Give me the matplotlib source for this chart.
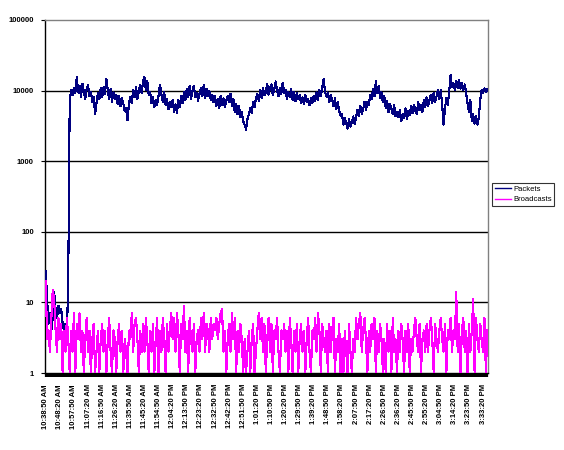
import numpy as np
import matplotlib.pyplot as plt
from matplotlib.ticker import NullLocator

# x-axis category labels (one every 10 samples)
time_labels = ["10:38:50 AM", "10:48:20 AM", "10:57:50 AM", "11:07:20 AM", "11:16:50 AM",
               "11:26:20 AM", "11:35:50 AM", "11:45:20 AM", "11:54:50 AM", "12:04:20 PM",
               "12:13:50 PM", "12:23:20 PM", "12:32:50 PM", "12:42:20 PM", "12:51:50 PM",
               "1:01:20 PM", "1:10:50 PM", "1:20:20 PM", "1:29:50 PM", "1:39:20 PM",
               "1:48:50 PM", "1:58:20 PM", "2:07:50 PM", "2:17:20 PM", "2:26:50 PM",
               "2:36:20 PM", "2:45:50 PM", "2:55:20 PM", "3:04:50 PM", "3:14:20 PM",
               "3:23:50 PM", "3:33:20 PM"]
label_step = 10

packets = [
    28, 11, 5, 7, 4, 6, 14, 8, 6, 9,
    7, 8, 5, 4, 5, 3, 25, 6800, 10200, 8600,
    11000, 9200, 15500, 9400, 11800, 8100, 12600, 9700, 7600, 10400,
    12000, 8300, 9600, 7000, 8200, 4600, 6700, 9300, 7500, 10800,
    8000, 11200, 9000, 14800, 9900, 7600, 10500, 7000, 9400, 7700,
    8800, 6500, 8300, 6000, 7800, 6600, 5100, 5600, 3800, 6700,
    8100, 6600, 10200, 8000, 11300, 7600, 9600, 12200, 9300, 13600,
    15500, 10100, 13800, 8600, 9500, 6700, 8200, 5900, 7400, 6300,
    8600, 12200, 8800, 7000, 9500, 6200, 7600, 5400, 6800, 5800,
    7300, 5000, 6400, 4800, 7300, 5900, 8400, 6600, 9600, 7400,
    10500, 8000, 11600, 7500, 9800, 11800, 8000, 9200, 7200, 9000,
    10800, 8300, 11900, 7800, 10600, 8500, 9800, 7300, 8800, 6800,
    8300, 6100, 7600, 5600, 8400, 6300, 7800, 5800, 7200, 8500,
    6800, 9000, 6100, 7600, 5000, 6500, 4600, 6100, 4200, 4900,
    3700, 3300, 2800, 3900, 4700, 5600, 4800, 6800, 5800, 7800,
    9000, 7200, 10200, 7900, 11000, 8600, 9400, 12500, 8800, 10800,
    12200, 8600, 10400, 13500, 9800, 8400, 11000, 9000, 13000, 9300,
    10200, 7700, 9600, 8200, 10400, 7400, 9500, 7100, 9200, 7600,
    8600, 6600, 8000, 6400, 8600, 6800, 7600, 6200, 7800, 6600,
    8400, 7200, 9400, 7400, 10200, 8400, 11000, 14500, 9600, 8200,
    9400, 6800, 8600, 7400, 6000, 7800, 5400, 6900, 5200, 4400,
    4600, 3300, 4100, 3500, 2900, 3900, 3100, 3600, 4300, 3400,
    4200, 5300, 4400, 6000, 4700, 5400, 6900, 5300, 7000, 6200,
    8700, 7600, 10500, 8300, 13500, 9300, 11800, 7800, 9500, 6800,
    8300, 5700, 7200, 4900, 6500, 5600, 4600, 6200, 4300, 5000,
    4200, 5300, 3700, 4700, 4100, 5600, 3900, 5100, 4500, 6000,
    4800, 6300, 5200, 4700, 6800, 5300, 6300, 5000, 7300, 5900,
    8000, 6000, 7300, 8800, 6700, 9300, 7000, 8200, 10200, 7600,
    10200, 6400, 3300, 5600, 7800, 6200, 9800, 16500, 11200, 12600,
    10300, 13600, 11000, 14000, 10600, 12800, 10200, 12200, 9200, 6600,
    4900, 7300, 3700, 4600, 3400, 4400, 3300, 4200, 7400, 10200,
    9200, 10800, 9600, 10400,
]

broadcasts = [
    20, 3, 4, 2, 6, 15, 11, 4, 2, 6,
    3, 5, 1, 4, 2, 6, 3, 1, 4, 2,
    7, 1, 5, 3, 7, 2, 4, 1, 3, 6,
    2, 4, 1, 3, 5, 1, 2, 4, 1, 3,
    5, 2, 4, 1, 3, 6, 2, 1, 4, 3,
    1, 3, 5, 2, 4, 1, 3, 2, 1, 4,
    3, 7, 2, 5, 6, 3, 1, 4, 2, 5,
    2, 6, 3, 1, 4, 2, 5, 1, 3, 6,
    1, 4, 2, 6, 3, 1, 5, 2, 4, 7,
    3, 6, 2, 7, 4, 1, 5, 3, 9, 2,
    4, 1, 6, 3, 2, 5, 1, 3, 4, 2,
    6, 3, 7, 2, 5, 4, 2, 6, 3, 5,
    4, 6, 3, 5, 7, 8, 2, 4, 1, 3,
    5, 2, 7, 3, 6, 1, 4, 2, 5, 3,
    1, 3, 1, 2, 4, 1, 3, 5, 1, 2,
    4, 7, 3, 6, 2, 5, 1, 3, 6, 2,
    5, 1, 4, 3, 6, 2, 1, 4, 3, 5,
    2, 4, 1, 6, 3, 1, 4, 2, 5, 1,
    3, 5, 2, 4, 1, 3, 6, 2, 1, 4,
    3, 6, 2, 7, 4, 1, 5, 3, 2, 4,
    1, 5, 2, 4, 6, 1, 3, 2, 5, 1,
    3, 1, 4, 2, 1, 5, 2, 1, 3, 2,
    6, 3, 5, 7, 2, 4, 6, 3, 1, 4,
    2, 5, 3, 6, 1, 4, 2, 5, 3, 1,
    3, 1, 5, 2, 4, 1, 6, 2, 3, 1,
    4, 2, 5, 3, 1, 4, 2, 5, 1, 3,
    2, 4, 6, 3, 2, 5, 1, 3, 4, 2,
    5, 2, 4, 6, 3, 1, 5, 3, 2, 4,
    6, 3, 2, 5, 1, 4, 3, 6, 2, 4,
    3, 14, 2, 5, 1, 4, 6, 2, 4, 1,
    5, 2, 4, 11, 1, 6, 3, 2, 5, 3,
    2, 6, 1, 4,
]

y_ticks = [1, 10, 100, 1000, 10000, 100000]
y_labels = ["1", "10", "100", "1000", "10000", "100000"]

plt.rcParams["font.family"] = ["Liberation Sans", "DejaVu Sans"]

x = np.arange(len(packets))

fig = plt.figure(figsize=(5.64, 4.5), dpi=100)
ax = fig.add_axes([45 / 564, 1 - 373 / 450, (488 - 45) / 564, (373 - 20) / 450])

# thin 1-pixel lines, like the spreadsheet rendering
ax.plot(x, packets, color="#000080", lw=0.8, antialiased=False, label="Packets", zorder=3)
ax.plot(x, broadcasts, color="#FF00FF", lw=0.8, antialiased=False, label="Broadcasts", zorder=4)

ax.set_yscale("log")
ax.set_ylim(1, 100000)
ax.set_xlim(-0.5, len(packets) - 0.5)
ax.set_yticks(y_ticks)
ax.set_yticklabels(y_labels, fontsize=5.5, fontweight="bold")
ax.yaxis.set_minor_locator(NullLocator())
for yv in y_ticks[1:-1]:
    ax.axhline(yv, color="black", lw=1.0, zorder=1)

ax.set_xticks(np.arange(0, len(packets), label_step)[:len(time_labels)])
ax.set_xticklabels(time_labels, rotation=90, fontsize=5.5, fontweight="bold")
ax.set_xticks(x, minor=True)
ax.tick_params(axis="x", which="both", length=3, width=1.6, direction="out", pad=5)
ax.tick_params(axis="y", length=3, width=0.8, direction="out", pad=5)

for side in ["top", "right"]:
    ax.spines[side].set_color("#808080")
    ax.spines[side].set_linewidth(1.0)
for side in ["left", "bottom"]:
    ax.spines[side].set_color("black")
    ax.spines[side].set_linewidth(1.0)

leg = fig.legend(loc="upper left", bbox_to_anchor=(492 / 564, 1 - 183 / 450),
                 fontsize=5.5, frameon=True, fancybox=False, handlelength=2.2,
                 handletextpad=0.2, borderpad=0.35, labelspacing=0.4, borderaxespad=0)
leg.get_frame().set_edgecolor("black")
leg.get_frame().set_linewidth(0.8)
for handle in leg.get_lines():
    handle.set_linewidth(1.0)
    handle.set_antialiased(True)

fig.savefig("out.png", dpi=100)
